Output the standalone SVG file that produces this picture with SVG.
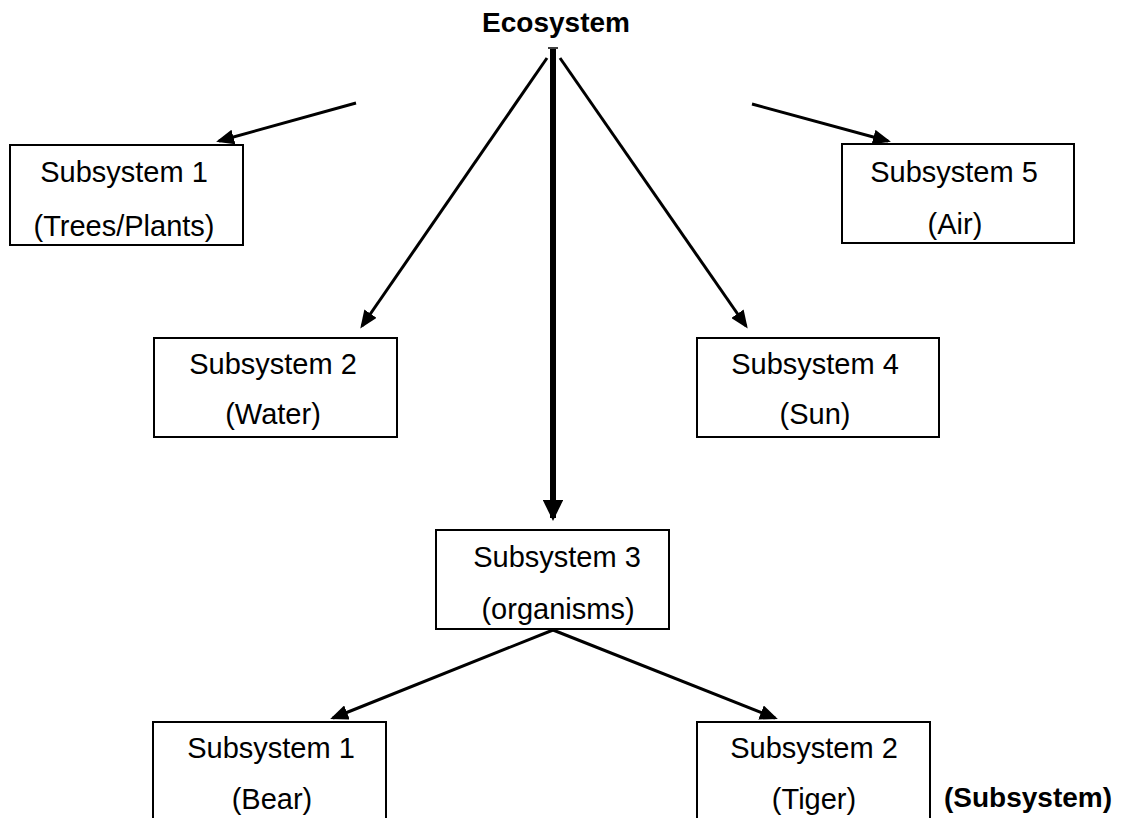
<svg xmlns="http://www.w3.org/2000/svg" width="1121" height="818" viewBox="0 0 1121 818">
<style>
.box{fill:#fff;stroke:#000;stroke-width:2}
.t{font-family:"Liberation Sans",Arial,sans-serif;font-size:29px;text-anchor:middle;fill:#000}
.b{font-family:"Liberation Sans",Arial,sans-serif;font-size:28px;font-weight:bold;text-anchor:middle;fill:#000}
.ln{stroke:#000;stroke-width:3;fill:none}
</style>
<defs>
<marker id="ah" markerWidth="6" markerHeight="5" refX="5" refY="2.5" orient="auto" markerUnits="strokeWidth">
<path d="M0,0 L6,2.5 L0,5 Z" fill="#000"/>
</marker>
<marker id="ahb" markerWidth="3.5" markerHeight="3.4" refX="3" refY="1.7" orient="auto" markerUnits="strokeWidth">
<path d="M0,0 L3.5,1.7 L0,3.4 Z" fill="#000"/>
</marker>
</defs>
<rect width="1121" height="818" fill="#fff"/>
<g id="title"><text class="b" x="556" y="32">Ecosystem</text></g>
<g id="connectors">
<line x1="548" y1="48" x2="558" y2="48" stroke="#000" stroke-width="1.5"/>
<line class="ln" x1="553" y1="49" x2="553" y2="518" style="stroke-width:6" marker-end="url(#ahb)"/>
<line class="ln" x1="547" y1="58" x2="362" y2="326" marker-end="url(#ah)"/>
<line class="ln" x1="560" y1="58" x2="746" y2="326" marker-end="url(#ah)"/>
<line class="ln" x1="356" y1="103" x2="219" y2="141" marker-end="url(#ah)"/>
<line class="ln" x1="752" y1="104" x2="888" y2="141" marker-end="url(#ah)"/>
<line class="ln" x1="553" y1="630" x2="333" y2="718" marker-end="url(#ah)"/>
<line class="ln" x1="553" y1="630" x2="775" y2="718" marker-end="url(#ah)"/>
</g>
<g id="node-s1">
<rect class="box" x="10" y="145" width="233" height="100"/>
<text class="t" x="124" y="182">Subsystem 1</text>
<text class="t" x="124" y="236">(Trees/Plants)</text>
</g>
<g id="node-s5">
<rect class="box" x="842" y="144" width="232" height="99"/>
<text class="t" x="954" y="182">Subsystem 5</text>
<text class="t" x="955" y="234">(Air)</text>
</g>
<g id="node-s2">
<rect class="box" x="154" y="338" width="243" height="99"/>
<text class="t" x="273" y="374">Subsystem 2</text>
<text class="t" x="273" y="424">(Water)</text>
</g>
<g id="node-s4">
<rect class="box" x="697" y="338" width="242" height="99"/>
<text class="t" x="815" y="374">Subsystem 4</text>
<text class="t" x="815" y="424">(Sun)</text>
</g>
<g id="node-s3">
<rect class="box" x="436" y="530" width="233" height="99"/>
<text class="t" x="557" y="567">Subsystem 3</text>
<text class="t" x="558" y="619">(organisms)</text>
</g>
<g id="node-bear">
<rect class="box" x="153" y="722" width="233" height="110"/>
<text class="t" x="271" y="758">Subsystem 1</text>
<text class="t" x="272" y="809">(Bear)</text>
</g>
<g id="node-tiger">
<rect class="box" x="697" y="722" width="233" height="110"/>
<text class="t" x="814" y="758">Subsystem 2</text>
<text class="t" x="814" y="809">(Tiger)</text>
</g>
<g id="label-sub"><text class="b" x="1028" y="807">(Subsystem)</text></g>
</svg>
